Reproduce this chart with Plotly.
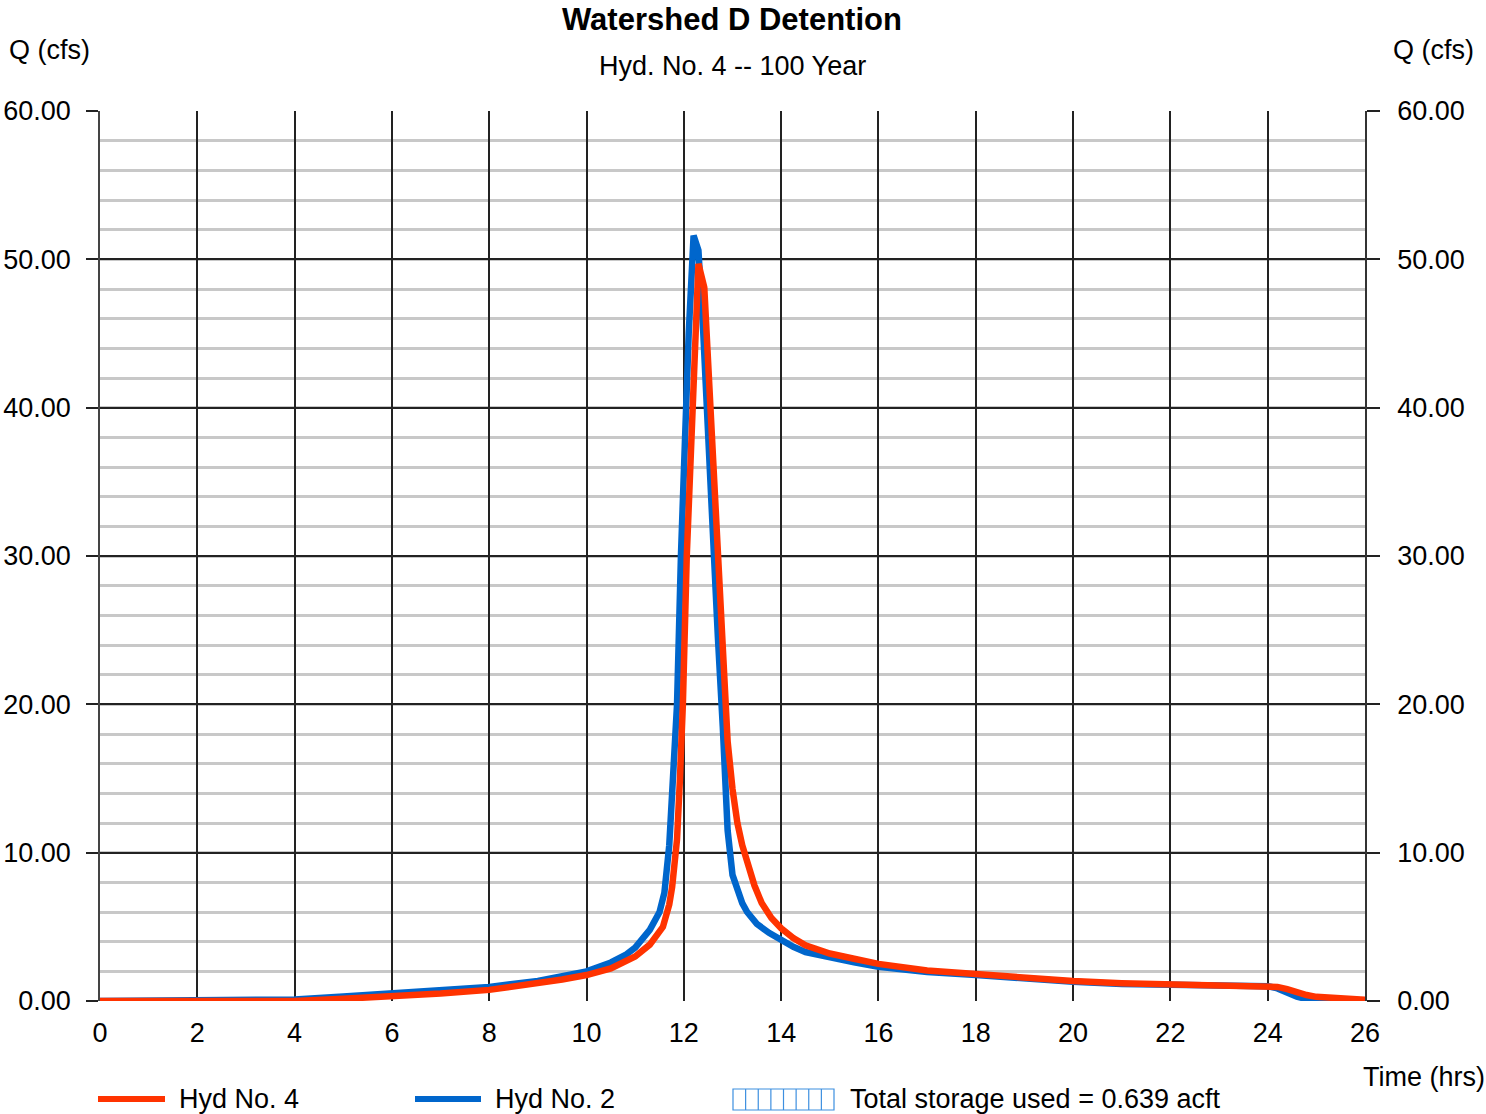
import plotly.graph_objects as go

# ---- data ----
t_hyd2 = [0, 2, 3.5, 4, 5, 6, 7, 8, 9, 9.5, 10, 10.5, 10.8, 11.0, 11.3, 11.5, 11.6, 11.7, 11.8,
          11.86, 11.94, 12.0, 12.1, 12.2, 12.3, 12.4, 12.5, 12.6, 12.7, 12.8, 12.9, 13.0, 13.1,
          13.2, 13.3, 13.5, 13.75, 14.0, 14.25, 14.5, 15.0, 15.5, 16, 17, 18, 19, 20, 21, 22, 23,
          24, 24.2, 24.4, 24.6, 24.8, 25.0, 25.2, 26]
q_hyd2 = [0, 0, 0, 0.1, 0.3, 0.5, 0.7, 0.95, 1.35, 1.65, 2.0, 2.6, 3.1, 3.6, 4.8, 6.0, 7.3, 10.5, 16.0,
          20.0, 30.0, 36.0, 45.0, 51.6, 50.6, 45.0, 38.0, 30.0, 24.5, 18.5, 11.5, 8.5, 7.4,
          6.6, 6.0, 5.2, 4.6, 4.1, 3.65, 3.3, 2.9, 2.6, 2.3, 1.95, 1.75, 1.5, 1.3, 1.15, 1.1, 1.05,
          1.0, 0.85, 0.55, 0.3, 0.12, 0.03, 0.0, 0.0]

t_hyd4 = [0, 2, 4, 5, 6, 7, 8, 9, 9.5, 10, 10.5, 11.0, 11.3, 11.57, 11.7, 11.76, 11.86, 11.92,
          11.98, 12.06, 12.11, 12.2, 12.3, 12.42, 12.5, 12.6, 12.7, 12.8, 12.9, 13.0, 13.1, 13.2,
          13.3, 13.45, 13.6, 13.8, 14.0, 14.25, 14.5, 15.0, 15.5, 16, 17, 18, 19, 20, 21, 22, 23,
          24, 24.2, 24.4, 24.6, 24.8, 25.0, 25.5, 26]
q_hyd4 = [0, 0, 0, 0.15, 0.3, 0.5, 0.75, 1.15, 1.45, 1.75, 2.2, 3.0, 3.8, 5.0, 6.5, 7.7, 10.9, 15.0,
          20.0, 30.0, 33.8, 42.0, 49.7, 48.1, 43.0, 38.0, 32.3, 24.0, 17.5, 14.3, 12.0, 10.5,
          9.3, 7.8, 6.6, 5.6, 4.9, 4.25, 3.75, 3.2, 2.85, 2.5, 2.05, 1.8, 1.55, 1.35, 1.2, 1.12, 1.07,
          1.02, 0.95, 0.8, 0.55, 0.4, 0.28, 0.15, 0.08]

x_ticks = list(range(0, 27, 2))
y_ticks = [0, 10, 20, 30, 40, 50, 60]

series_names = ["Hyd No. 4", "Hyd No. 2"]
storage_text = "Total storage used = 0.639 acft"
title_text = "Watershed D Detention"
subtitle_text = "Hyd. No. 4 -- 100 Year"

RED = "#ff3300"
BLUE = "#0066cc"
FONT = "Liberation Sans, Arial, Helvetica, sans-serif"
FS = 27

fig = go.Figure()
fig.add_trace(go.Scatter(x=t_hyd2, y=q_hyd2, mode="lines", name=series_names[1],
                         line=dict(color=BLUE, width=6.5), showlegend=False))
fig.add_trace(go.Scatter(x=t_hyd4, y=q_hyd4, mode="lines", name=series_names[0],
                         line=dict(color=RED, width=6.5), showlegend=False))
# invisible trace for the right axis
fig.add_trace(go.Scatter(x=[0], y=[0], yaxis="y2", mode="markers",
                         marker=dict(opacity=0), showlegend=False, hoverinfo="skip"))

W, H = 1486, 1114
L, R, T, B = 100, 1365, 111, 1001

def px(p):
    return (p - L) / (R - L)

def py(p):
    return (B - p) / (B - T)

fig.update_layout(
    width=W, height=H,
    margin=dict(l=L, r=W - R, t=T, b=H - B, pad=0, autoexpand=False),
    paper_bgcolor="white", plot_bgcolor="white",
    font=dict(family=FONT, size=FS, color="black"),
    showlegend=False,
    xaxis=dict(range=[0, 26], tickvals=x_ticks, ticktext=[str(v) for v in x_ticks],
               showgrid=True, gridcolor="#222222", gridwidth=1.5, automargin=False,
               zeroline=False, showline=False, ticks="", ticklabelstandoff=13,
               tickfont=dict(size=FS)),
    yaxis=dict(range=[0, 60], tickvals=y_ticks, tickformat=".2f", automargin=False,
               showgrid=True, gridcolor="#222222", gridwidth=1.5,
               zeroline=False, showline=True, linecolor="#444444", linewidth=1.5,
               ticks="outside", ticklen=12, tickcolor="#222222", tickwidth=1.5,
               ticklabelstandoff=10, tickfont=dict(size=FS),
               minor=dict(dtick=2, showgrid=True, gridcolor="#c8c8c8", gridwidth=2.5, ticks="")),
    yaxis2=dict(range=[0, 60], tickvals=y_ticks, tickformat=".2f", overlaying="y", side="right",
                showgrid=False, zeroline=False, showline=True, linecolor="#333333", linewidth=1.5,
                automargin=False,
                ticks="outside", ticklen=13, tickcolor="#222222", tickwidth=1.5,
                ticklabelstandoff=12, tickfont=dict(size=FS)),
)

ann = []
ann.append(dict(text=f"<b>{title_text}</b>", x=px(732), y=py(19), xref="paper", yref="paper",
                showarrow=False, xanchor="center", yanchor="middle", font=dict(size=31)))
ann.append(dict(text=subtitle_text, x=px(732), y=py(66), xref="paper", yref="paper",
                showarrow=False, xanchor="center", yanchor="middle", font=dict(size=FS)))
ann.append(dict(text="Q (cfs)", x=px(7), y=py(50), xref="paper", yref="paper",
                showarrow=False, xanchor="left", yanchor="middle", font=dict(size=FS)))
ann.append(dict(text="Q (cfs)", x=px(1476), y=py(50), xref="paper", yref="paper",
                showarrow=False, xanchor="right", yanchor="middle", font=dict(size=FS)))
ann.append(dict(text="Time (hrs)", x=px(1487), y=py(1077), xref="paper", yref="paper",
                showarrow=False, xanchor="right", yanchor="middle", font=dict(size=FS)))

shapes = []
# legend entries
leg_y = py(1099)
shapes.append(dict(type="line", xref="paper", yref="paper", x0=px(98), x1=px(165),
                   y0=leg_y, y1=leg_y, line=dict(color=RED, width=6)))
ann.append(dict(text=series_names[0], x=px(177), y=leg_y, xref="paper", yref="paper",
                showarrow=False, xanchor="left", yanchor="middle", font=dict(size=FS)))
shapes.append(dict(type="line", xref="paper", yref="paper", x0=px(415), x1=px(481),
                   y0=leg_y, y1=leg_y, line=dict(color=BLUE, width=6)))
ann.append(dict(text=series_names[1], x=px(493), y=leg_y, xref="paper", yref="paper",
                showarrow=False, xanchor="left", yanchor="middle", font=dict(size=FS)))
HATCH = "#3d8fe0"
bx0, bx1, by0, by1 = 733, 834, 1089, 1110
shapes.append(dict(type="rect", xref="paper", yref="paper", x0=px(bx0), x1=px(bx1),
                   y0=py(by1), y1=py(by0), line=dict(color=HATCH, width=1.2),
                   fillcolor="rgba(0,0,0,0)"))
n_cells = 8
for i in range(1, n_cells):
    xx = bx0 + (bx1 - bx0) * i / n_cells
    shapes.append(dict(type="line", xref="paper", yref="paper", x0=px(xx), x1=px(xx),
                       y0=py(by1), y1=py(by0), line=dict(color=HATCH, width=1.2)))
ann.append(dict(text=storage_text, x=px(848), y=leg_y, xref="paper", yref="paper",
                showarrow=False, xanchor="left", yanchor="middle", font=dict(size=FS)))

fig.update_layout(annotations=ann, shapes=shapes)
fig.write_html("out.html")
